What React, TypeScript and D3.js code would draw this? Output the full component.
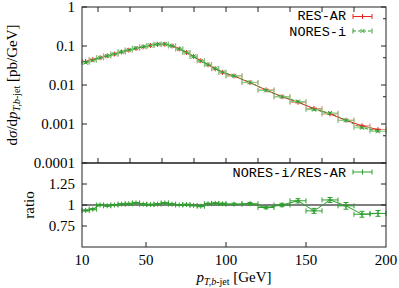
import * as d3 from "d3";

// bin edges in GeV
const binEdges = [10, 14.5, 19, 23.5, 28, 32.5, 37, 41.5, 46, 50.5, 55, 59.5, 64, 68.5, 73, 77.5, 82, 86.5, 91, 95.5, 100,
  110, 120, 130, 140, 150, 160, 170, 180, 190, 200];

// dsigma/dpT [pb/GeV]
const resAR = [0.040, 0.045, 0.050, 0.056, 0.062, 0.070, 0.078, 0.086, 0.095, 0.103, 0.110, 0.110, 0.100, 0.084, 0.068,
  0.054, 0.042, 0.033, 0.026, 0.021, 0.017, 0.0115, 0.0075, 0.0050, 0.0036, 0.0025, 0.0018, 0.00125, 0.0009, 0.00072];
const noresI = [0.0374, 0.0428, 0.050, 0.0554, 0.062, 0.0707, 0.0792, 0.0882, 0.096, 0.1035, 0.111, 0.1128, 0.101, 0.084,
  0.0683, 0.0537, 0.0414, 0.0335, 0.0265, 0.0213, 0.0172, 0.01167, 0.00728, 0.0050, 0.00378, 0.00233, 0.00191, 0.00124,
  0.0008, 0.00065];
// relative stat. errors
const relErr = [0.02, 0.02, 0.015, 0.015, 0.015, 0.015, 0.015, 0.015, 0.015, 0.015, 0.015, 0.015, 0.015, 0.015, 0.015,
  0.015, 0.015, 0.015, 0.015, 0.015, 0.02, 0.02, 0.02, 0.025, 0.03, 0.03, 0.03, 0.04, 0.04, 0.04];

const ratio = [0.935, 0.95, 1.0, 0.99, 1.0, 1.01, 1.015, 1.025, 1.01, 1.005, 1.01, 1.025, 1.01, 1.0, 1.005, 0.995, 0.985,
  1.015, 1.02, 1.015, 1.01, 1.015, 0.97, 1.0, 1.05, 0.93, 1.06, 0.99, 0.89, 0.90];
const ratioErr = [0.008, 0.008, 0.008, 0.006, 0.006, 0.006, 0.006, 0.006, 0.006, 0.006, 0.006, 0.006, 0.006, 0.006, 0.006,
  0.006, 0.006, 0.008, 0.008, 0.008, 0.012, 0.015, 0.015, 0.02, 0.025, 0.03, 0.03, 0.04, 0.035, 0.035];

const xTicks = [10, 50, 100, 150, 200];
const xMinorTop = [20, 40, 60, 80, 100, 120, 140, 160, 180];
const yTicks = [1, 0.1, 0.01, 0.001, 0.0001];
const yTickLabels = ["1", "0.1", "0.01", "0.001", "0.0001"];
const yRightMinor = [0.5, 0.05, 0.005, 0.0005];
const rTicks = [1.25, 1, 0.75];
const rTickLabels = ["1.25", "1", "0.75"];

const RED = "#e4261f";
const RED_ERR = "#f28a86";
const GREEN = "#2f9e2f";
const GREEN_ERR = "#7ccc7c";

const L = 82, R = 386, T = 7, M = 163, B = 247;
const serif = "'Liberation Serif', 'Times New Roman', serif";
const mono = "'Liberation Mono', 'Courier New', monospace";

type Pt = { x: number; lo: number; hi: number; y: number; ylo: number; yhi: number };

function Series({ pts, color, errColor, marker, dashed }: { pts: Pt[]; color: string; errColor: string; marker: "plus" | "cross"; dashed?: boolean }) {
  const line = d3.line<Pt>().x(d => d.x).y(d => d.y);
  const c = 2.5;
  return (
    <g>
      {pts.map((p, i) => (
        <g key={i} stroke={errColor} strokeWidth={1} fill="none">
          <line x1={p.lo} x2={p.hi} y1={p.y} y2={p.y} />
          <line x1={p.lo} x2={p.lo} y1={p.y - c} y2={p.y + c} />
          <line x1={p.hi} x2={p.hi} y1={p.y - c} y2={p.y + c} />
          <line x1={p.x} x2={p.x} y1={p.ylo} y2={p.yhi} />
          <line x1={p.x - c} x2={p.x + c} y1={p.ylo} y2={p.ylo} />
          <line x1={p.x - c} x2={p.x + c} y1={p.yhi} y2={p.yhi} />
        </g>
      ))}
      <path d={line(pts) || ""} fill="none" stroke={color} strokeWidth={1} strokeDasharray={dashed ? "3,2" : undefined} />
      {pts.map((p, i) => (
        <g key={"m" + i} stroke={color} strokeWidth={1}>
          {marker === "plus" ? (
            <>
              <line x1={p.x - 2.5} x2={p.x + 2.5} y1={p.y} y2={p.y} />
              <line x1={p.x} x2={p.x} y1={p.y - 2.5} y2={p.y + 2.5} />
            </>
          ) : (
            <>
              <line x1={p.x - 2} x2={p.x + 2} y1={p.y - 2} y2={p.y + 2} />
              <line x1={p.x - 2} x2={p.x + 2} y1={p.y + 2} y2={p.y - 2} />
            </>
          )}
        </g>
      ))}
    </g>
  );
}

function LegendSample({ x1, x2, y, color, marker, dashed }: { x1: number; x2: number; y: number; color: string; marker: "plus" | "cross"; dashed?: boolean }) {
  const xm = (x1 + x2) / 2;
  return (
    <g stroke={color} strokeWidth={1}>
      <line x1={x1} x2={x2} y1={y} y2={y} strokeDasharray={dashed ? "3,2" : undefined} />
      <line x1={x1} x2={x1} y1={y - 2.5} y2={y + 2.5} />
      <line x1={x2} x2={x2} y1={y - 2.5} y2={y + 2.5} />
      {marker === "plus" ? (
        <line x1={xm} x2={xm} y1={y - 2.5} y2={y + 2.5} />
      ) : (
        <>
          <line x1={xm - 2} x2={xm + 2} y1={y - 2} y2={y + 2} />
          <line x1={xm - 2} x2={xm + 2} y1={y + 2} y2={y - 2} />
        </>
      )}
    </g>
  );
}

export default function App() {
  const x = d3.scaleLinear().domain([10, 200]).range([L, R]);
  const y = d3.scaleLog().domain([0.0001, 1]).range([M, T]);
  const yr = d3.scaleLinear().domain([0.5, 1.5]).range([B, M]);

  const mk = (vals: number[]): Pt[] =>
    vals.map((v, i) => {
      const lo = binEdges[i], hi = binEdges[i + 1];
      return { x: x((lo + hi) / 2), lo: x(lo), hi: x(hi), y: y(v), ylo: y(v * (1 - relErr[i])), yhi: y(v * (1 + relErr[i])) };
    });
  const ratioPts: Pt[] = ratio.map((v, i) => {
    const lo = binEdges[i], hi = binEdges[i + 1];
    return { x: x((lo + hi) / 2), lo: x(lo), hi: x(hi), y: yr(v), ylo: yr(v - ratioErr[i]), yhi: yr(v + ratioErr[i]) };
  });

  return (
    <svg width={399} height={288} style={{ position: "absolute", left: 0, top: 0, background: "#fff" }}>
      <rect x={0} y={0} width={399} height={288} fill="#fff" />

      {/* top panel data */}
      <Series pts={mk(resAR)} color={RED} errColor={RED_ERR} marker="plus" />
      <Series pts={mk(noresI)} color={GREEN} errColor={GREEN_ERR} marker="cross" dashed />

      {/* ratio panel */}
      <line x1={L} x2={R} y1={yr(1)} y2={yr(1)} stroke="#000" strokeWidth={1} />
      <Series pts={ratioPts} color={GREEN} errColor={GREEN} marker="plus" />

      {/* frames */}
      <rect x={L} y={T} width={R - L} height={M - T} fill="none" stroke="#222" strokeWidth={1} />
      <rect x={L} y={M} width={R - L} height={B - M} fill="none" stroke="#222" strokeWidth={1} />
      <line x1={L} x2={R} y1={M} y2={M} stroke="#555" strokeWidth={1.6} />

      {/* ticks */}
      <g stroke="#222" strokeWidth={1}>
        {xMinorTop.map(t => (
          <g key={"xt" + t}>
            <line x1={x(t)} x2={x(t)} y1={T} y2={T + 5} />
            <line x1={x(t)} x2={x(t)} y1={M} y2={M - 5} />
          </g>
        ))}
        {yTicks.map(t => (
          <g key={"yt" + t}>
            <line x1={L} x2={L + 5} y1={y(t)} y2={y(t)} />
            <line x1={R} x2={R - 5} y1={y(t)} y2={y(t)} />
          </g>
        ))}
        {yRightMinor.map(t => (
          <line key={"ym" + t} x1={R} x2={R - 3} y1={y(t)} y2={y(t)} />
        ))}
        {xTicks.slice(1, -1).map(t => (
          <line key={"xb" + t} x1={x(t)} x2={x(t)} y1={B} y2={B - 5} />
        ))}
        {rTicks.map(t => (
          <g key={"rt" + t}>
            <line x1={L} x2={L + 5} y1={yr(t)} y2={yr(t)} />
            <line x1={R} x2={R - 5} y1={yr(t)} y2={yr(t)} />
          </g>
        ))}
      </g>

      {/* tick labels */}
      <g fontFamily={serif} fontSize={15} fill="#000">
        {yTicks.map((t, i) => (
          <text key={"yl" + t} x={L - 7} y={y(t)} dy="0.35em" textAnchor="end">{yTickLabels[i]}</text>
        ))}
        {rTicks.map((t, i) => (
          <text key={"rl" + t} x={L - 7} y={yr(t)} dy="0.35em" textAnchor="end">{rTickLabels[i]}</text>
        ))}
        {xTicks.map(t => (
          <text key={"xl" + t} x={x(t)} y={265} textAnchor="middle">{t}</text>
        ))}
      </g>

      {/* axis titles */}
      <text x={234} y={282} fontFamily={serif} fontSize={15} textAnchor="middle">
        <tspan fontStyle="italic">p</tspan>
        <tspan fontSize={10} dy={3}><tspan fontStyle="italic">T,b</tspan>-jet</tspan>
        <tspan dy={-3}> [GeV]</tspan>
      </text>
      <text transform={`translate(17,${(T + M) / 2}) rotate(-90)`} fontFamily={serif} fontSize={15} textAnchor="middle">
        d<tspan fontStyle="italic">σ</tspan>/d<tspan fontStyle="italic">p</tspan>
        <tspan fontSize={10} dy={3}><tspan fontStyle="italic">T,b</tspan>-jet</tspan>
        <tspan dy={-3}> [pb/GeV]</tspan>
      </text>
      <text transform={`translate(34,${yr(1)}) rotate(-90)`} fontFamily={serif} fontSize={15} textAnchor="middle">ratio</text>

      {/* legends */}
      <g fontFamily={mono} fontSize={13.5} fill="#000" textAnchor="end">
        <text x={346} y={20}>RES-AR</text>
        <text x={346} y={35.5}>NORES-i</text>
        <text x={346} y={177}>NORES-i/RES-AR</text>
      </g>
      <LegendSample x1={353} x2={372} y={16.5} color={RED} marker="plus" />
      <LegendSample x1={353} x2={372} y={31} color={GREEN} marker="cross" dashed />
      <LegendSample x1={353} x2={372} y={172} color={GREEN} marker="plus" />
    </svg>
  );
}
